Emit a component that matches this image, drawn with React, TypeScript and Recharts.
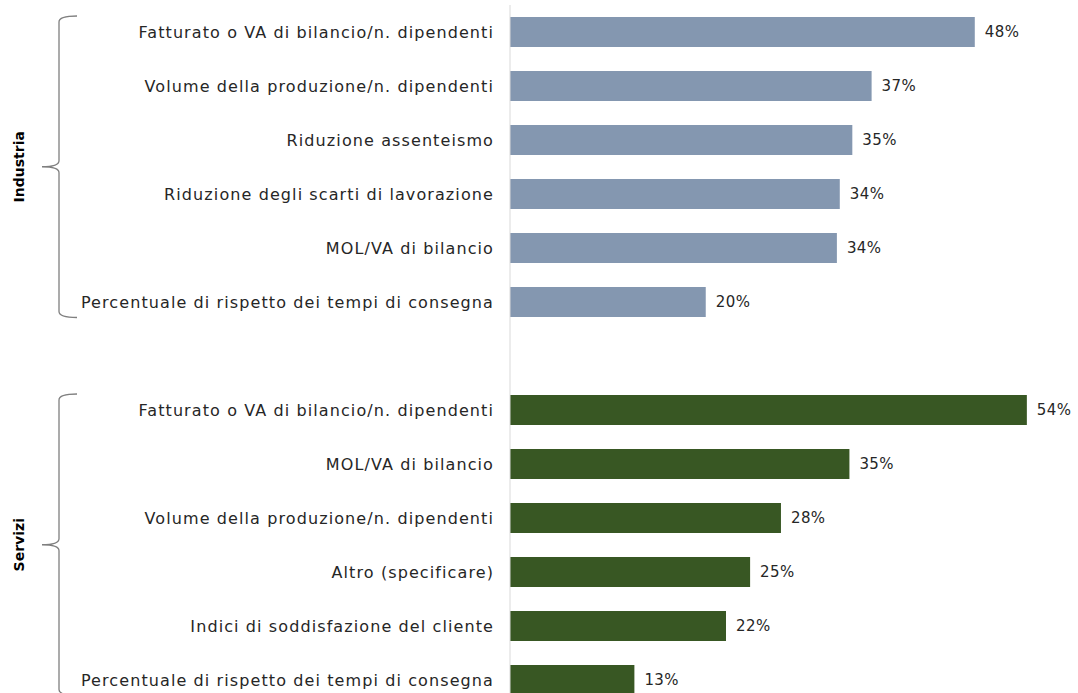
import React from 'react';
import { BarChart, Bar, XAxis, YAxis, Cell, LabelList } from 'recharts';

const industriaCategories = [
  'Fatturato o VA di bilancio/n. dipendenti',
  'Volume della produzione/n. dipendenti',
  'Riduzione assenteismo',
  'Riduzione degli scarti di lavorazione',
  'MOL/VA di bilancio',
  'Percentuale di rispetto dei tempi di consegna',
];
const industriaValues = [48.2, 37.5, 35.5, 34.2, 33.9, 20.3];
const industriaLabels = ['48%', '37%', '35%', '34%', '34%', '20%'];

const serviziCategories = [
  'Fatturato o VA di bilancio/n. dipendenti',
  'MOL/VA di bilancio',
  'Volume della produzione/n. dipendenti',
  'Altro (specificare)',
  'Indici di soddisfazione del cliente',
  'Percentuale di rispetto dei tempi di consegna',
];
const serviziValues = [53.6, 35.2, 28.1, 24.9, 22.4, 12.9];
const serviziLabels = ['54%', '35%', '28%', '25%', '22%', '13%'];

const groupNames = ['Industria', 'Servizi'];
const groupColors = ['#8497B0', '#385723'];

const FONT = '"DejaVu Sans", sans-serif';
const W = 1078;
const H = 710;
const M_TOP = 5;
const M_BOTTOM = 3;
const ROWS = industriaCategories.length + 1 + serviziCategories.length;
const ROW_H = (H - M_TOP - M_BOTTOM) / ROWS;

const rows = [
  ...industriaCategories.map((c, i) => ({ id: `i${i}`, name: c, value: industriaValues[i], label: industriaLabels[i], group: 0 })),
  { id: 'gap', name: '', value: null, label: '', group: -1 },
  ...serviziCategories.map((c, i) => ({ id: `s${i}`, name: c, value: serviziValues[i], label: serviziLabels[i], group: 1 })),
];

const nameById: Record<string, string> = {};
rows.forEach((r) => { nameById[r.id] = r.name; });

function bracketPath(top: number, bottom: number) {
  const mid = (top + bottom) / 2;
  const xv = 59, xe = 77, xp = 42;
  return `M${xe} ${top} Q${xv} ${top} ${xv} ${top + 6} L${xv} ${mid - 6} Q${xv} ${mid} ${xp} ${mid} Q${xv} ${mid} ${xv} ${mid + 6} L${xv} ${bottom - 6} Q${xv} ${bottom} ${xe} ${bottom}`;
}

const groupSpans = [
  { start: 0, count: industriaCategories.length },
  { start: industriaCategories.length + 1, count: serviziCategories.length },
];

export default function App() {
  return (
    <div style={{ position: 'absolute', left: 0, top: 0, width: W, height: 693, overflow: 'hidden', background: '#fff' }}>
      <BarChart
        width={W}
        height={H}
        data={rows}
        layout="vertical"
        margin={{ top: M_TOP, right: 28, bottom: M_BOTTOM, left: 0 }}
      >
        <XAxis type="number" hide domain={[0, 56]} />
        <YAxis
          type="category"
          dataKey="id"
          width={510}
          tickLine={false}
          tickSize={0}
          tickMargin={16}
          axisLine={{ stroke: '#D9D9D9', strokeWidth: 1 }}
          tickFormatter={(v: string) => nameById[v] ?? ''}
          tick={{ fill: '#262626', fontSize: 16, fontFamily: FONT, letterSpacing: '1.1px' }}
          interval={0}
        />
        <Bar dataKey="value" barSize={30} isAnimationActive={false}>
          {rows.map((r) => (
            <Cell key={r.id} fill={r.group >= 0 ? groupColors[r.group] : 'none'} />
          ))}
          <LabelList dataKey="label" position="right" offset={10} fill="#262626" fontSize={15} fontFamily={FONT} style={{ letterSpacing: '0.4px' }} />
        </Bar>
      </BarChart>
      <svg width={W} height={693} style={{ position: 'absolute', left: 0, top: 0, pointerEvents: 'none' }}>
        {groupSpans.map((g, gi) => {
          const top = M_TOP + g.start * ROW_H + 11;
          const bottom = M_TOP + (g.start + g.count) * ROW_H - 11.5;
          const mid = (top + bottom) / 2;
          return (
            <g key={gi}>
              <path d={bracketPath(top, bottom)} fill="none" stroke="#7F7F7F" strokeWidth={1.3} />
              <text
                x={19}
                y={mid}
                transform={`rotate(-90 19 ${mid})`}
                textAnchor="middle"
                dominantBaseline="central"
                fontFamily={FONT}
                fontWeight="bold"
                fontSize={14}
                fill="#000"
              >
                {groupNames[gi]}
              </text>
            </g>
          );
        })}
      </svg>
    </div>
  );
}
